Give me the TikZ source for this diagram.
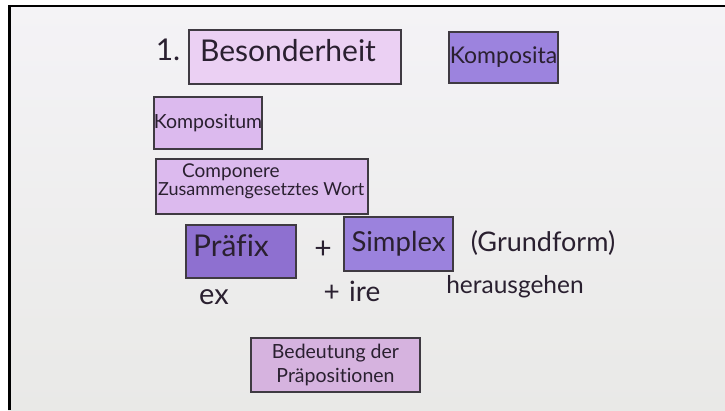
\documentclass[tikz,border=0pt]{standalone}
\usepackage{fontspec}
\setmainfont[Ligatures=NoCommon]{Lato}
\definecolor{bgtop}{HTML}{F4F3F6}
\definecolor{bgbot}{HTML}{E9E9E7}
\definecolor{edge}{HTML}{3F3A42}
\definecolor{ink}{HTML}{2A2030}
\definecolor{lightA}{HTML}{EBD0F3}
\definecolor{lightB}{HTML}{DCBAEE}
\definecolor{lightC}{HTML}{D6B3DF}
\definecolor{darkA}{HTML}{9C83DE}
\definecolor{darkB}{HTML}{8E70D0}
\begin{document}
\begin{tikzpicture}[x=1pt,y=-1pt,
  card/.style={draw=edge, line width=1.6pt, inner sep=0pt, text=ink, align=center},
  hand/.style={text=ink, inner sep=0pt},
  fs/.style={font=\fontsize{#1}{#1}\selectfont}]
\useasboundingbox (0,0) rectangle (725,410);
\shade[top color=bgtop, bottom color=bgbot] (8,5) rectangle (725,410);
\draw[line width=2.2pt, black] (8,6.1) -- (725,6.1);
\draw[line width=3pt, black] (9.5,5) -- (9.5,410);
% cards
\node[card, fill=lightA, minimum width=212, minimum height=54] (bes) at (295,57) {};
\node[card, fill=darkA, minimum width=109, minimum height=51, fs=23] (komp) at (503.5,57.5) {Komposita};
\node[card, fill=lightB, minimum width=106, minimum height=52, fs=19.5] (kompum) at (208,123) {Kompositum};
\node[card, fill=lightB, minimum width=212, minimum height=55] (compo) at (262,186.5) {};
\node[card, fill=darkB, minimum width=110, minimum height=53] (praefix) at (241,251.5) {};
\node[card, fill=darkA!95!darkB, minimum width=109, minimum height=54, fs=27.5] (simplex) at (398.5,244) {Simplex};
\node[card, fill=lightC, minimum width=169, minimum height=54, fs=19.5] (bed) at (335.5,365) {Bedeutung der\\[4pt]Präpositionen};
% texts
\node[hand, fs=30] (besT) at (288,51) {Besonderheit};
\node[hand, fs=30] (praefixT) at (231,246) {Präfix};
\node[hand, fs=30] (one) at (168,50) {1.};
\node[hand, fs=19, anchor=west] (componere) at (182,172) {Componere};
\node[hand, fs=18, anchor=west] (zus) at (158,191) {Zusammengesetztes Wort};
\node[hand, fs=30] (plus) at (323,250) {+};
\node[hand, fs=27] (grund) at (543,243) {(Grundform)};
\node[hand, fs=29] (ex) at (214,297) {ex};
\node[hand, fs=28] (ire) at (352,291) {+\,\,ire};
\node[hand, fs=24.5] (heraus) at (515,287) {herausgehen};
\end{tikzpicture}
\end{document}
